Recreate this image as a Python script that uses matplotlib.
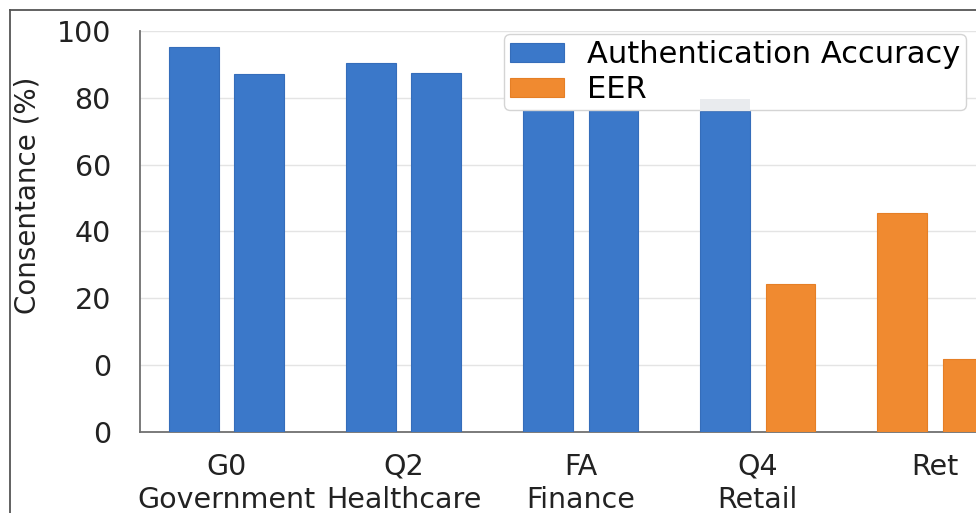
import matplotlib.pyplot as plt
from matplotlib.lines import Line2D
import numpy as np

# categories and bar values (two bars per category)
categories = ["G0\nGovernment", "Q2\nHealthcare", "FA\nFinance", "Q4\nRetail", "Ret"]
left_vals = [95.1, 90.4, 88.0, 76.0, 45.4]
right_vals = [87.1, 87.3, 86.5, 24.3, 1.8]
left_series = ["Authentication Accuracy"] * 4 + ["EER"]
right_series = ["Authentication Accuracy"] * 3 + ["EER", "EER"]
q4_cap = 79.6

y_ticks = [-20, 0, 20, 40, 60, 80, 100]
y_ticklabels = ["0", "0", "20", "40", "60", "80", "100"]
base = -20

colors = {"Authentication Accuracy": "#3b78c9", "EER": "#f08a30"}
edges = {"Authentication Accuracy": "#356dba", "EER": "#e57f26"}

plt.rcParams['font.family'] = 'DejaVu Sans'

fig = plt.figure(figsize=(9.76, 5.13), dpi=100)
ax = fig.add_axes([0.1434, 0.1579, 0.905, 0.782])

x = np.arange(len(categories))
w = 0.28
off = 0.184

seen = set()
for i in range(len(categories)):
    for pos, val, ser in [(x[i] - off, left_vals[i], left_series[i]),
                          (x[i] + off, right_vals[i], right_series[i])]:
        lab = ser if ser not in seen else None
        seen.add(ser)
        ax.bar(pos, val - base, bottom=base, width=w, color=colors[ser],
               edgecolor=edges[ser], linewidth=0.8, label=lab, zorder=3)

# faded top section on the Q4 accuracy bar, drawn over the legend frame
ax.bar(x[3] - off, q4_cap - left_vals[3], bottom=left_vals[3], width=w,
       color="#e9ebee", linewidth=0, zorder=11)

ax.set_xlim(-0.49, 4.5)
ax.set_ylim(-20, 100)
ax.set_yticks(y_ticks)
ax.set_yticklabels(y_ticklabels, fontsize=20.5, color="#222222")
ax.set_xticks(x)
ax.set_xticklabels(categories, fontsize=20.5, color="#222222", linespacing=1.25)
ax.tick_params(axis="y", length=0, pad=21)
ax.tick_params(axis="x", length=0, pad=15)

ax.grid(axis="y", color="#e4e4e4", linewidth=1.0, zorder=0)
ax.set_axisbelow(True)
for s in ["top", "right"]:
    ax.spines[s].set_visible(False)
for s in ["left", "bottom"]:
    ax.spines[s].set_color("#707070")
    ax.spines[s].set_linewidth(1.3)

ax.set_ylabel("Consentance (%)", fontsize=20, color="#222222")
ax.yaxis.set_label_coords(-0.111, 0.59)

leg = ax.legend(loc="upper left", bbox_to_anchor=(0.5165, 0.9337),
                bbox_transform=fig.transFigure, fontsize=22, frameon=True,
                fancybox=True, edgecolor="#d4d4d4", framealpha=1,
                handlelength=1.76, handleheight=0.6, handletextpad=0.75,
                borderpad=0.2, labelspacing=0.2, borderaxespad=0)
leg.set_zorder(10)

# outer frame lines
fig.add_artist(Line2D([10 / 976, 10 / 976], [0, 1 - 10 / 513],
                      color="#555555", linewidth=1.3, transform=fig.transFigure))
fig.add_artist(Line2D([10 / 976, 1], [1 - 10 / 513, 1 - 10 / 513],
                      color="#555555", linewidth=1.3, transform=fig.transFigure))

fig.savefig("out.png", dpi=100)
